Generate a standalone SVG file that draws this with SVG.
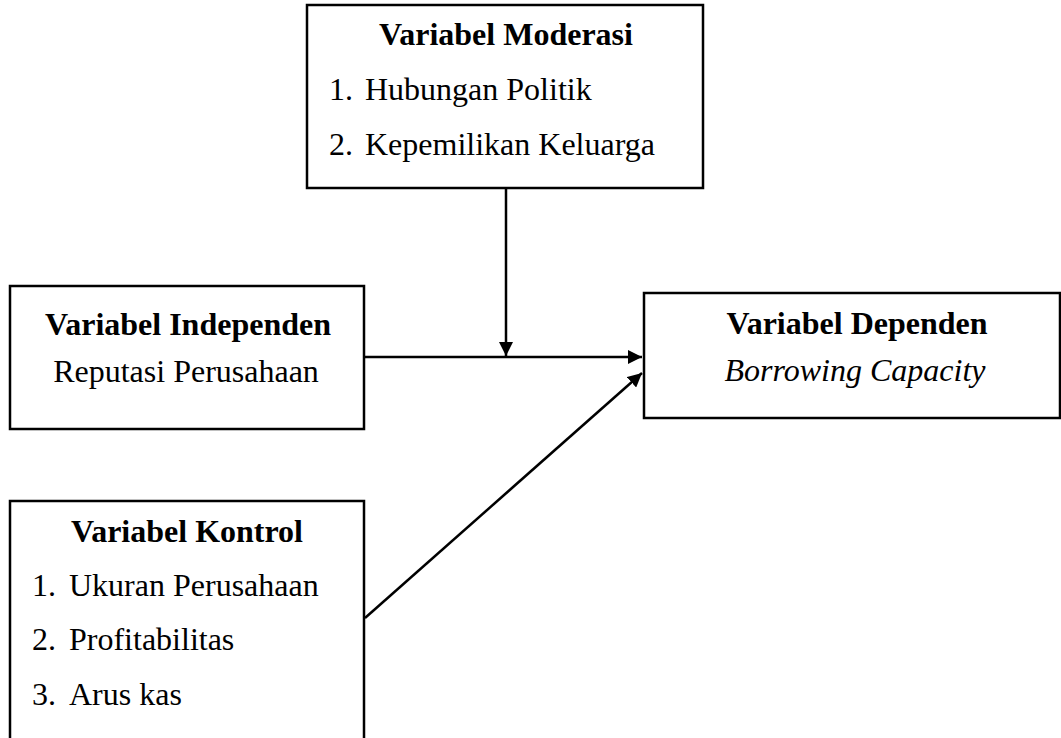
<svg xmlns="http://www.w3.org/2000/svg" width="1061" height="738" viewBox="0 0 1061 738">
<style>
.box{fill:#fff;stroke:#000;stroke-width:2.5}
.t{font-family:"Liberation Serif","Times New Roman",serif;font-size:32px;fill:#000}
.b{font-weight:bold}
.i{font-style:italic}
.c{text-anchor:middle}
.ln{stroke:#000;stroke-width:2.5;fill:none}
</style>
<defs>
<marker id="ah2" markerWidth="14" markerHeight="14" refX="14" refY="7" orient="auto" markerUnits="userSpaceOnUse" viewBox="0 0 14 14">
<path d="M0,0 L14,7 L0,14 z" fill="#000"/>
</marker>
</defs>
<g id="moderasi">
<rect class="box" x="307" y="5" width="396" height="183"/>
<text class="t b c" x="506" y="45">Variabel Moderasi</text>
<text class="t" x="329" y="100">1.</text><text class="t" x="365" y="100">Hubungan Politik</text>
<text class="t" x="329" y="155">2.</text><text class="t" x="365" y="155">Kepemilikan Keluarga</text>
</g>
<g id="independen">
<rect class="box" x="10" y="286" width="354" height="143"/>
<text class="t b c" x="188" y="335">Variabel Independen</text>
<text class="t c" x="186" y="382">Reputasi Perusahaan</text>
</g>
<g id="dependen">
<rect class="box" x="644" y="293" width="416" height="125"/>
<text class="t b c" x="857" y="334">Variabel Dependen</text>
<text class="t i c" x="855" y="381">Borrowing Capacity</text>
</g>
<g id="kontrol">
<rect class="box" x="10" y="501" width="354" height="250"/>
<text class="t b c" x="187" y="542">Variabel Kontrol</text>
<text class="t" x="32" y="596">1.</text><text class="t" x="69" y="596">Ukuran Perusahaan</text>
<text class="t" x="32" y="650">2.</text><text class="t" x="69" y="650">Profitabilitas</text>
<text class="t" x="32" y="705">3.</text><text class="t" x="69" y="705">Arus kas</text>
</g>
<g id="connectors">
<line class="ln" x1="365" y1="357" x2="642" y2="357" marker-end="url(#ah2)"/>
<line class="ln" x1="506" y1="189" x2="506" y2="356" marker-end="url(#ah2)"/>
<line class="ln" x1="365" y1="618" x2="642" y2="373" marker-end="url(#ah2)"/>
</g>
</svg>
